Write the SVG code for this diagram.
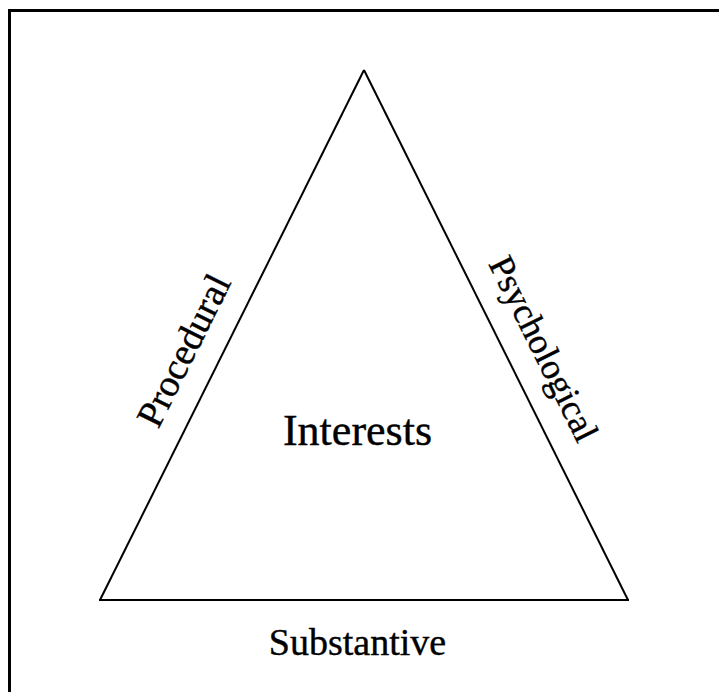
<svg xmlns="http://www.w3.org/2000/svg" width="719" height="692" viewBox="0 0 719 692">
<style>
.lbl{font-family:"Liberation Serif","Times New Roman",serif;fill:#000;stroke:#000;stroke-width:0.4;text-anchor:middle}
.frame{stroke:#000;stroke-width:3;fill:none}
.edge{stroke:#000;stroke-width:2;fill:none}
</style>
<rect width="719" height="692" fill="#fff"/>
<g id="frame">
<path class="frame" d="M9.5,692 V10.5 H719"/>
</g>
<g id="connectors">
<path class="edge" d="M364,70 L100,600"/>
<path class="edge" d="M364,70 L628,600"/>
<path class="edge" d="M99,600 L629,600" stroke-width="3"/>
</g>
<g id="interests"><text class="lbl" x="357.5" y="445" font-size="44">Interests</text></g>
<g id="procedural"><text class="lbl" font-size="38" transform="translate(195,356) rotate(-63.5)">Procedural</text></g>
<g id="psychological"><text class="lbl" font-size="36" transform="translate(533,354) rotate(63.5)">Psychological</text></g>
<g id="substantive"><text class="lbl" x="357.5" y="655" font-size="38">Substantive</text></g>
</svg>
